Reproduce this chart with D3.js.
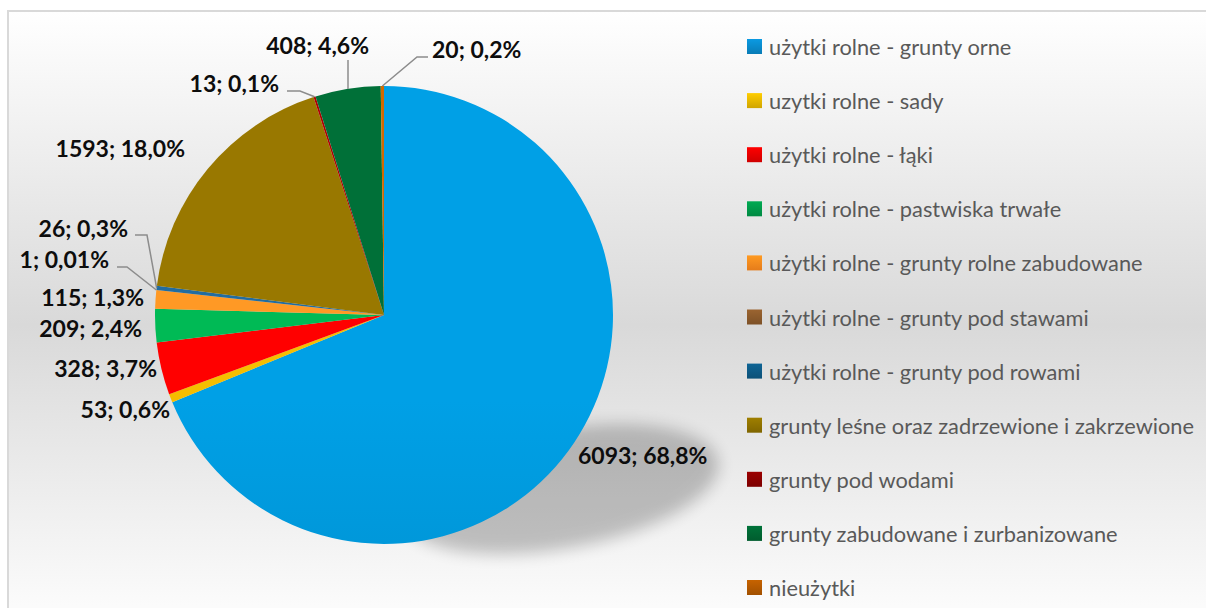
<!DOCTYPE html>
<html><head><meta charset="utf-8">
<script src="https://cdn.jsdelivr.net/npm/d3@7"></script>
<style>html,body{margin:0;padding:0;background:#fff;}svg{display:block;}</style>
</head><body>
<svg id="chart" width="1206" height="608"></svg>
<script>
// ---- data ----
const categories = [
  "użytki rolne - grunty orne",
  "uzytki rolne - sady",
  "użytki rolne - łąki",
  "użytki rolne - pastwiska trwałe",
  "użytki rolne - grunty rolne zabudowane",
  "użytki rolne - grunty pod stawami",
  "użytki rolne - grunty pod rowami",
  "grunty leśne oraz zadrzewione i zakrzewione",
  "grunty pod wodami",
  "grunty zabudowane i zurbanizowane",
  "nieużytki"
];
const values = [6093, 53, 328, 209, 115, 1, 26, 1593, 13, 408, 20];
const percentLabels = ["68,8%", "0,6%", "3,7%", "2,4%", "1,3%", "0,01%", "0,3%", "18,0%", "0,1%", "4,6%", "0,2%"];

// ---- styles / layout ----
const colors = ["#0092d2", "#e0ae00", "#ea0000", "#00aa4e", "#ff8c22", "#8c5a2c",
                "#1f6391", "#8c6e00", "#a00000", "#006633", "#c06000"];
const legendColors = ["#0a8acb", "#e8b800", "#e60000", "#00994a", "#ff8a1e", "#8b5a2b",
                      "#0d5a86", "#8f7200", "#8b0000", "#006633", "#b35900"];
// label layout: [anchor, x, baseline]
const labelLayout = [
  ["start", 578, 464], ["end", 170, 418], ["end", 157, 377], ["end", 142, 337],
  ["end", 144, 306], ["end", 109, 268], ["end", 128, 237], ["end", 185, 157],
  ["end", 279, 92], ["end", 369, 54], ["start", 432, 58]
];
// leader elbows (label side)
const leaderLayout = {
  5: [[117, 267], [127, 267]],
  6: [[135, 235], [147, 235]],
  8: [[287, 91], [300, 91]],
  9: [[348, 60]],
  10: [[428, 57], [417, 57]]
};

const W = 1206, H = 608;
const cx = 384, cy = 315, R = 229;
const svg = d3.select("#chart");
const defs = svg.append("defs");

// background gradient
const bg = defs.append("linearGradient").attr("id", "bg")
  .attr("x1", 0).attr("y1", 0).attr("x2", 0).attr("y2", 1);
bg.append("stop").attr("offset", "0%").attr("stop-color", "#ffffff");
bg.append("stop").attr("offset", "50%").attr("stop-color", "#d9d9d9");
bg.append("stop").attr("offset", "100%").attr("stop-color", "#ffffff");

svg.append("rect").attr("width", W).attr("height", H).attr("fill", "#fff");
svg.append("rect").attr("x", 8).attr("y", 11).attr("width", W + 20).attr("height", H + 20)
  .attr("fill", "url(#bg)").attr("stroke", "#d9d9d9").attr("stroke-width", 2);

// shadow
const blur = defs.append("filter").attr("id", "blur")
  .attr("x", "-30%").attr("y", "-30%").attr("width", "160%").attr("height", "160%");
blur.append("feGaussianBlur").attr("stdDeviation", 8);
svg.append("ellipse")
  .attr("cx", cx + R * 0.77).attr("cy", cy + R * 0.76)
  .attr("rx", R * 0.70).attr("ry", R * 0.26)
  .attr("transform", `rotate(-10 ${cx + R * 0.77} ${cy + R * 0.76})`)
  .attr("fill", "#000").attr("opacity", 0.22).attr("filter", "url(#blur)");

// slice gradients
colors.forEach((c, i) => {
  const g = defs.append("linearGradient").attr("id", "sg" + i)
    .attr("gradientUnits", "userSpaceOnUse")
    .attr("x1", 0).attr("y1", cy - R).attr("x2", 0).attr("y2", cy + R);
  g.append("stop").attr("offset", "0%").attr("stop-color", d3.rgb(c).brighter(0.25));
  g.append("stop").attr("offset", "100%").attr("stop-color", d3.rgb(c).darker(0.25));
  const lg = defs.append("linearGradient").attr("id", "lg" + i)
    .attr("x1", 0).attr("y1", 0).attr("x2", 0).attr("y2", 1);
  lg.append("stop").attr("offset", "0%").attr("stop-color", d3.rgb(legendColors[i]).brighter(0.3));
  lg.append("stop").attr("offset", "100%").attr("stop-color", d3.rgb(legendColors[i]).darker(0.3));
});

const pie = d3.pie().sort(null).value(d => d)(values);
const arc = d3.arc().innerRadius(0).outerRadius(R);
const g = svg.append("g").attr("transform", `translate(${cx},${cy})`);
g.selectAll("path").data(pie).join("path")
  .attr("d", arc)
  .attr("fill", (d, i) => `url(#sg${i})`);

// leaders
const outerPt = d => {
  const a = (d.startAngle + d.endAngle) / 2;
  return [cx + R * Math.sin(a), cy - R * Math.cos(a)];
};
Object.keys(leaderLayout).forEach(k => {
  const i = +k;
  const p = outerPt(pie[i]);
  let pts = leaderLayout[k].slice();
  if (i === 9) pts = [pts[0], [pts[0][0], p[1]]];
  else pts.push(p);
  svg.append("path").attr("d", d3.line()(pts))
    .attr("fill", "none").attr("stroke", "#8c8c8c").attr("stroke-width", 1.5);
});

// labels
svg.append("g").selectAll("text").data(pie).join("text")
  .attr("x", (d, i) => labelLayout[i][1])
  .attr("y", (d, i) => labelLayout[i][2])
  .attr("text-anchor", (d, i) => labelLayout[i][0])
  .attr("font-family", "Lato, sans-serif").attr("font-weight", "bold")
  .attr("font-size", 23).attr("fill", "#0d0d0d")
  .text((d, i) => `${values[i]}; ${percentLabels[i]}`);

// legend
const leg = svg.append("g");
categories.forEach((c, i) => {
  const y = 47 + i * 54.1;
  leg.append("rect").attr("x", 747).attr("y", y - 8).attr("width", 15).attr("height", 15)
    .attr("fill", `url(#lg${i})`);
  leg.append("text").attr("x", 769).attr("y", y + 8)
    .attr("font-family", "Lato, sans-serif").attr("font-size", 21.8).attr("fill", "#595959")
    .text(c);
});
</script>
</body></html>
